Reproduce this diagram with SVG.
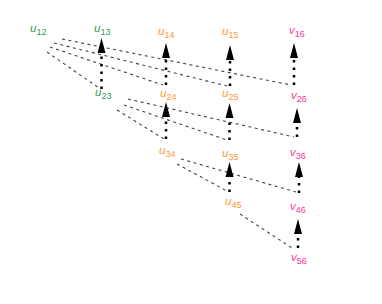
<svg xmlns="http://www.w3.org/2000/svg" width="382" height="304" viewBox="0 0 382 304">
<style>
.lbl{font-family:"Liberation Sans",Arial,sans-serif;font-size:11.5px}
.v{font-style:italic}
.s{font-size:9px}
.g{fill:#339a5c}
.o{fill:#ff9933}
.p{fill:#ff3399}
.dash{fill:none;stroke:#444;stroke-width:1.1;stroke-dasharray:3 3.5}
.dot{fill:none;stroke:#000;stroke-width:2.5;stroke-dasharray:2.5 5;marker-end:url(#ah)}
</style>
<defs>
<marker id="ah" markerUnits="userSpaceOnUse" markerWidth="16" markerHeight="9" refX="0" refY="4.5" orient="auto" overflow="visible">
<path d="M0,0.5 L15,4.5 L0,8.5 Z" fill="#000"/>
</marker>
</defs>
<rect width="382" height="304" fill="#fff"/>
<g id="connectors">
<path class="dash" d="M62,39 L291,85"/>
<path class="dash" d="M54,43 L227,86"/>
<path class="dash" d="M50,47 L163,85"/>
<path class="dash" d="M47,52 L99,88"/>
<path class="dash" d="M128,99 L294,137"/>
<path class="dash" d="M124,105 L227,140"/>
<path class="dash" d="M117,110 L164,139"/>
<path class="dash" d="M181,159 L296,192"/>
<path class="dash" d="M177,164 L227,191"/>
<path class="dash" d="M240,214 L292,248"/>
<path class="dot" d="M101.5,89 L101.5,53"/>
<path class="dot" d="M166,85 L166,58"/>
<path class="dot" d="M230,86 L230,60"/>
<path class="dot" d="M294,85 L294,58"/>
<path class="dot" d="M166,139 L166,117"/>
<path class="dot" d="M229.5,140 L229.5,118"/>
<path class="dot" d="M297,137 L297,123"/>
<path class="dot" d="M229.5,192 L229.5,177"/>
<path class="dot" d="M299,193 L299,177"/>
<path class="dot" d="M298,248 L298,234"/>
</g>
<g id="u12"><text class="lbl g" x="30" y="32"><tspan class="v">u</tspan><tspan class="s" dy="3">12</tspan></text></g>
<g id="u13"><text class="lbl g" x="94" y="32"><tspan class="v">u</tspan><tspan class="s" dy="3">13</tspan></text></g>
<g id="u14"><text class="lbl o" x="158" y="35"><tspan class="v">u</tspan><tspan class="s" dy="3">14</tspan></text></g>
<g id="u15"><text class="lbl o" x="222" y="35"><tspan class="v">u</tspan><tspan class="s" dy="3">15</tspan></text></g>
<g id="v16"><text class="lbl p" x="289" y="34"><tspan class="v">v</tspan><tspan class="s" dy="3">16</tspan></text></g>
<g id="u23"><text class="lbl g" x="95" y="96"><tspan class="v">u</tspan><tspan class="s" dy="3">23</tspan></text></g>
<g id="u24"><text class="lbl o" x="160" y="97"><tspan class="v">u</tspan><tspan class="s" dy="3">24</tspan></text></g>
<g id="u25"><text class="lbl o" x="222" y="97"><tspan class="v">u</tspan><tspan class="s" dy="3">25</tspan></text></g>
<g id="v26"><text class="lbl p" x="291" y="99"><tspan class="v">v</tspan><tspan class="s" dy="3">26</tspan></text></g>
<g id="u34"><text class="lbl o" x="159" y="154"><tspan class="v">u</tspan><tspan class="s" dy="3">34</tspan></text></g>
<g id="u35"><text class="lbl o" x="222" y="157"><tspan class="v">u</tspan><tspan class="s" dy="3">35</tspan></text></g>
<g id="v36"><text class="lbl p" x="290" y="156"><tspan class="v">v</tspan><tspan class="s" dy="3">36</tspan></text></g>
<g id="u45"><text class="lbl o" x="225" y="205"><tspan class="v">u</tspan><tspan class="s" dy="3">45</tspan></text></g>
<g id="v46"><text class="lbl p" x="290" y="210"><tspan class="v">v</tspan><tspan class="s" dy="3">46</tspan></text></g>
<g id="v56"><text class="lbl p" x="291" y="261"><tspan class="v">v</tspan><tspan class="s" dy="3">56</tspan></text></g>
</svg>
